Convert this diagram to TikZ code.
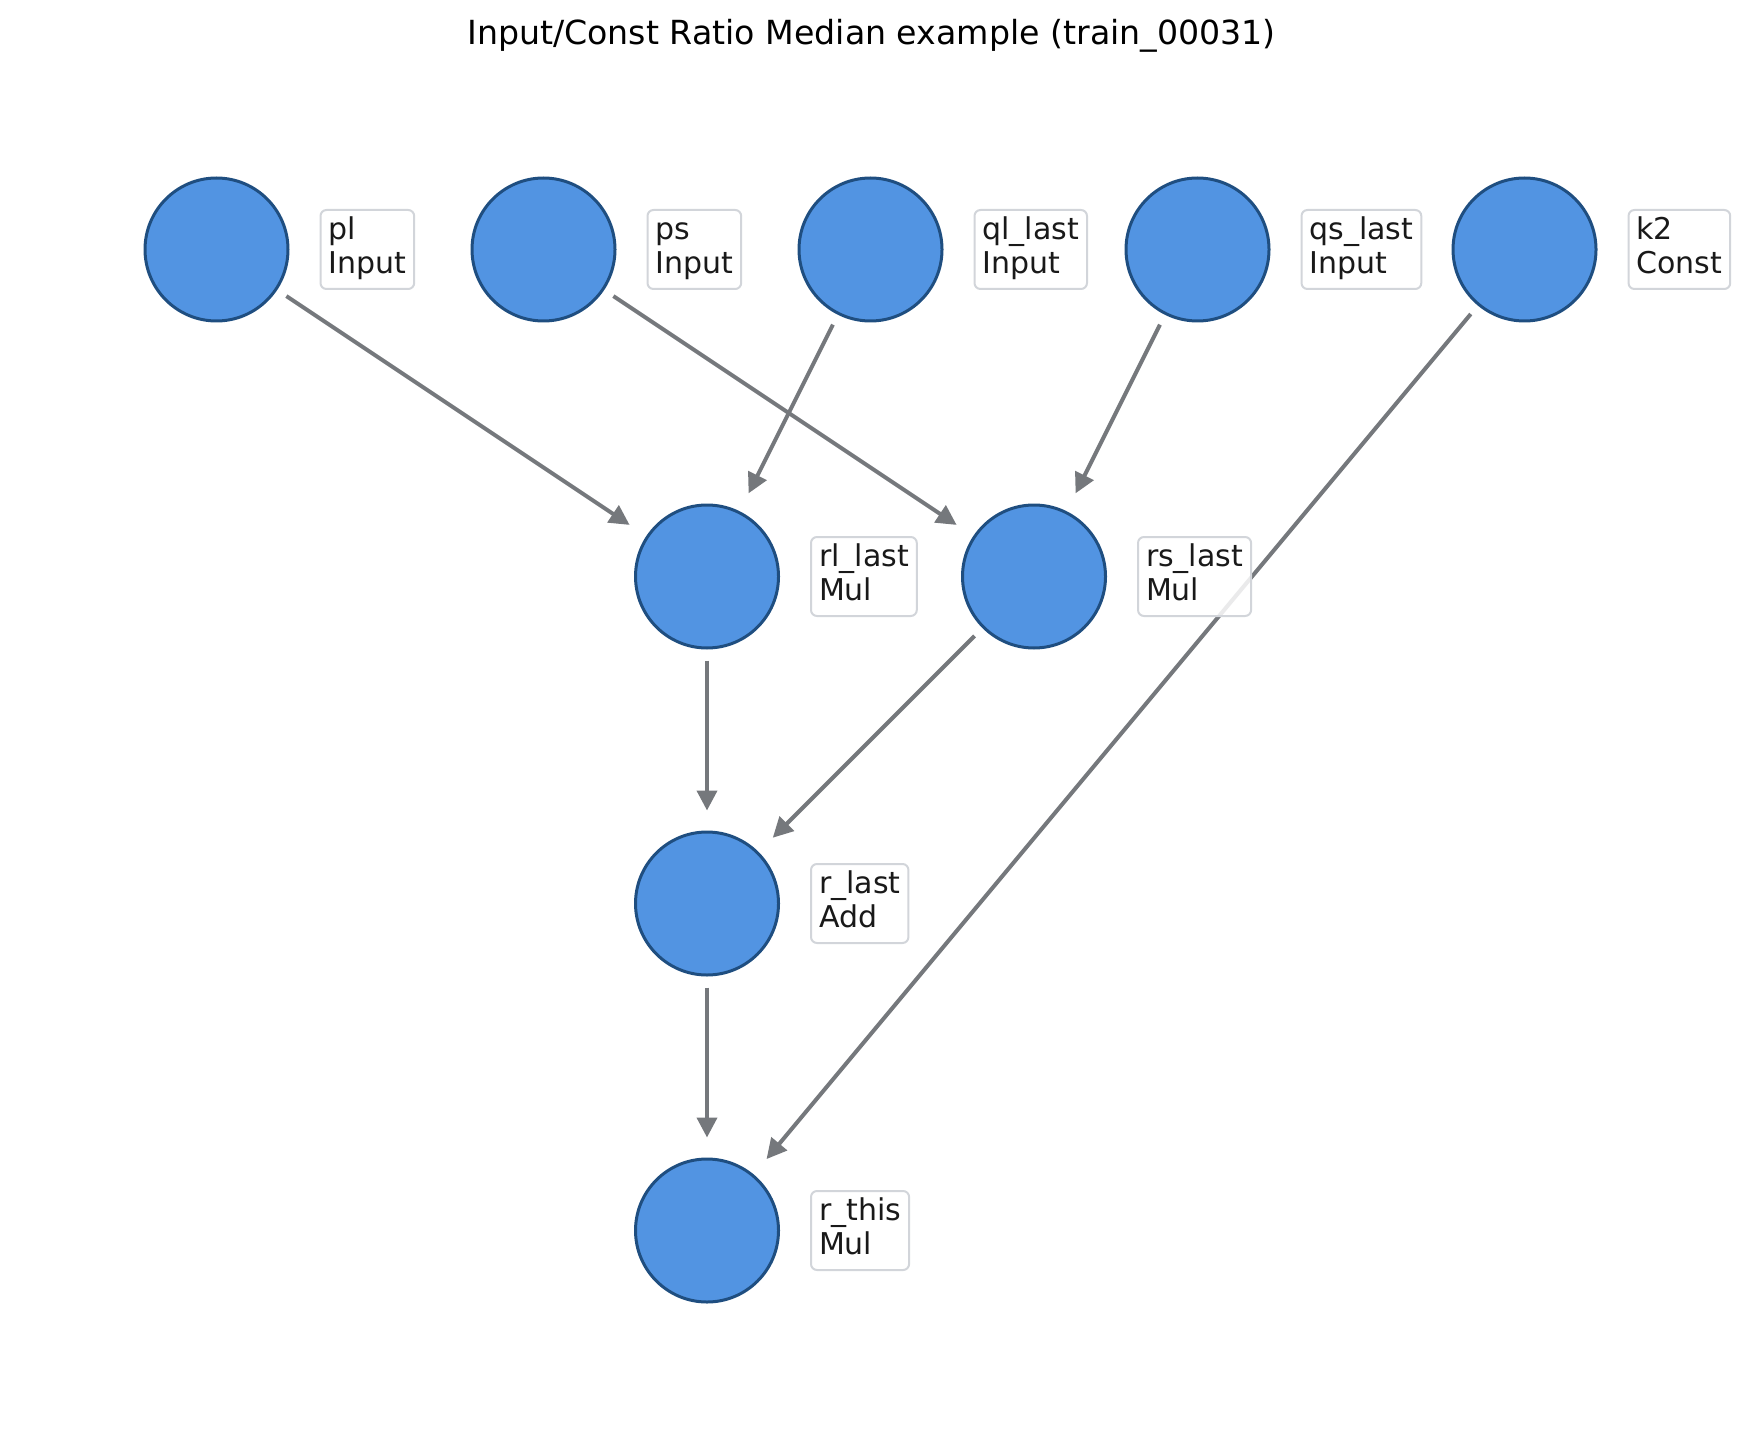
\documentclass[tikz,border=0pt]{standalone}
\usepackage{fontspec}
\setmainfont{DejaVu Sans}
\usetikzlibrary{positioning,arrows.meta}
\definecolor{opfill}{HTML}{5294E2}
\definecolor{opline}{HTML}{1F4E80}
\definecolor{wiregray}{HTML}{75787C}
\definecolor{boxgray}{HTML}{D2D5DA}
\begin{document}
\begin{tikzpicture}[x=0.5pt,y=-0.5pt,font=\fontsize{15}{17.25}\selectfont,
    op/.style={circle,draw=opline,fill=opfill,line width=1.5pt,minimum size=71.5pt,inner sep=0pt},
    lbl/.style={draw=boxgray,fill=white,fill opacity=0.85,text opacity=1,rounded corners=3pt,
        line width=1pt,align=left,inner xsep=4pt,inner ysep=2.5pt,text=black!90},
    wire/.style={draw=wiregray,line width=2pt,-{Triangle[length=10pt,width=10pt]},
        shorten <=5.5pt,shorten >=10pt}]
    \useasboundingbox (0,0) rectangle (1743,1438);
    \node[font=\fontsize{16.6}{20}\selectfont] (title) at (871.5,36)
        {Input/Const Ratio Median example (train\_00031)};
    % operation nodes
    \foreach \n/\x/\y in {pl/216.5/249.5,ps/543.5/249.5,ql-last/870.5/249.5,qs-last/1197.5/249.5,
        k2/1524.5/249.5,rl-last/707/576.5,rs-last/1034/576.5,r-last/707/903.5,r-this/707/1230.5}{
        \node[op] (\n) at (\x,\y) {};
    }
    % edges
    \foreach \a/\b in {pl/rl-last,ql-last/rl-last,ps/rs-last,qs-last/rs-last,
        rl-last/r-last,rs-last/r-last,r-last/r-this,k2/r-this}{
        \draw[wire] (\a) -- (\b);
    }
    % name / kind boxes
    \foreach \n/\t/\k in {pl/pl/Input,ps/ps/Input,ql-last/ql\_last/Input,qs-last/qs\_last/Input,
        k2/k2/Const,rl-last/rl\_last/Mul,rs-last/rs\_last/Mul,r-last/r\_last/Add,r-this/r\_this/Mul}{
        \node[lbl,right=15pt of \n] (\n-lbl) {\t\strut\\\k\strut};
    }
\end{tikzpicture}
\end{document}
